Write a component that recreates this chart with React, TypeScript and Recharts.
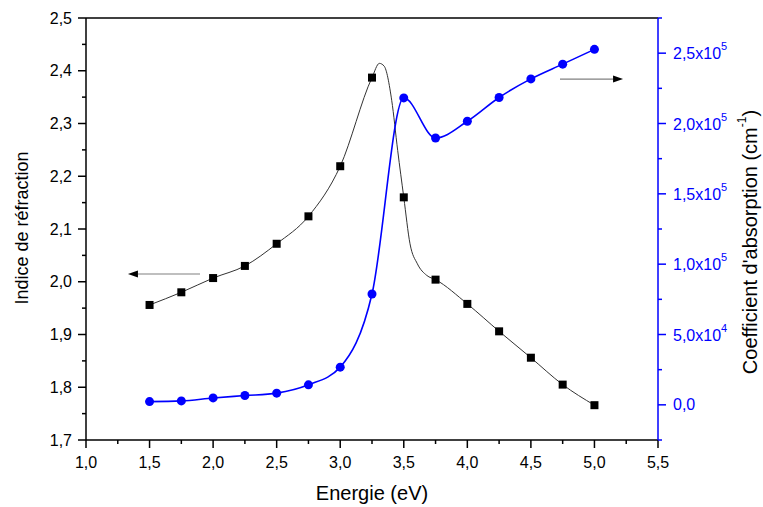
import React from 'react';
import { ComposedChart, Line, XAxis, YAxis, ReferenceLine } from 'recharts';

// measured points (energy in eV)
const energy = [1.5, 1.75, 2.0, 2.25, 2.5, 2.75, 3.0, 3.25, 3.5, 3.75, 4.0, 4.25, 4.5, 4.75, 5.0];
const refIndex = [1.956, 1.98, 2.007, 2.03, 2.072, 2.124, 2.219, 2.387, 2.16, 2.004, 1.958, 1.906, 1.856, 1.805, 1.766];
const absorption = [2300, 2800, 4900, 6600, 8300, 14200, 26800, 78800, 218200, 189700, 201600, 218500, 231700, 242200, 252700];

// the thin black curve is denser around the peak
const curveEnergy = [1.5, 1.75, 2.0, 2.25, 2.5, 2.75, 3.0, 3.25, 3.308, 3.345, 3.405, 3.452, 3.5, 3.549, 3.607, 3.681, 3.75, 4.0, 4.25, 4.5, 4.75, 5.0];
const curveIndex = [1.956, 1.98, 2.007, 2.03, 2.072, 2.124, 2.219, 2.387, 2.414, 2.409, 2.344, 2.249, 2.16, 2.072, 2.034, 2.012, 2.004, 1.958, 1.906, 1.856, 1.805, 1.766];

const xTicks = [1, 1.25, 1.5, 1.75, 2, 2.25, 2.5, 2.75, 3, 3.25, 3.5, 3.75, 4, 4.25, 4.5, 4.75, 5, 5.25, 5.5];
const leftTicks = [1.7, 1.75, 1.8, 1.85, 1.9, 1.95, 2.0, 2.05, 2.1, 2.15, 2.2, 2.25, 2.3, 2.35, 2.4, 2.45, 2.5];
const rightTicks = [-25000, 0, 25000, 50000, 75000, 100000, 125000, 150000, 175000, 200000, 225000, 250000, 275000];

const squareData = energy.map((x, i) => ({ x, n: refIndex[i] }));
const curveData = curveEnergy.map((x, i) => ({ x, n: curveIndex[i] }));
const blueData = energy.map((x, i) => ({ x, a: absorption[i] }));

const FONT = '"Liberation Sans", Arial, sans-serif';
const BLUE = '#0000ff';

const comma = (v: number) => v.toFixed(1).replace('.', ',');

function XTick(props: any) {
  const { x, y, payload } = props;
  const v = payload.value as number;
  const major = Math.abs(v * 2 - Math.round(v * 2)) < 1e-6;
  return (
    <g>
      <line x1={x} x2={x} y1={y} y2={y + (major ? 8 : 4)} stroke="#000" strokeWidth={1.5} />
      {major && (
        <text x={x} y={y + 22} textAnchor="middle" dominantBaseline="central" fontSize={16} fill="#000">
          {comma(v)}
        </text>
      )}
    </g>
  );
}

function LeftTick(props: any) {
  const { x, y, payload } = props;
  const v = payload.value as number;
  const major = Math.abs(v * 10 - Math.round(v * 10)) < 1e-6;
  return (
    <g>
      <line x1={x} x2={x - (major ? 8 : 4)} y1={y} y2={y} stroke="#000" strokeWidth={1.5} />
      {major && (
        <text x={x - 14} y={y} textAnchor="end" dominantBaseline="central" fontSize={16} fill="#000">
          {comma(v)}
        </text>
      )}
    </g>
  );
}

function RightTick(props: any) {
  const { x, y, payload } = props;
  const v = payload.value as number;
  const major = v % 50000 === 0;
  let label: React.ReactNode = null;
  if (major) {
    if (v === 0) {
      label = '0,0';
    } else {
      const exp = Math.floor(Math.log10(v));
      const mant = v / Math.pow(10, exp);
      label = (
        <>
          <tspan>{comma(mant)}x10</tspan>
          <tspan dy={-7} fontSize={11}>{exp}</tspan>
        </>
      );
    }
  }
  return (
    <g>
      <line x1={x} x2={x + (major ? 8 : 4)} y1={y} y2={y} stroke={BLUE} strokeWidth={1.5} />
      {major && (
        <text x={x + 15} y={y} textAnchor="start" dominantBaseline="central" fontSize={16} fill={BLUE}>
          {label}
        </text>
      )}
    </g>
  );
}

function Square(props: any) {
  const { cx, cy } = props;
  if (cx == null || cy == null) return null;
  return <rect x={cx - 4} y={cy - 4} width={8} height={8} fill="#000" />;
}

function Arrow(dir: 'left' | 'right') {
  return (props: any) => {
    const { x1, y1, x2, y2 } = props;
    const tip = dir === 'left' ? Math.min(x1, x2) : Math.max(x1, x2);
    const tail = dir === 'left' ? Math.max(x1, x2) : Math.min(x1, x2);
    const back = dir === 'left' ? tip + 10 : tip - 10;
    return (
      <g>
        <line x1={tail} x2={back} y1={y1} y2={y2} stroke="#808080" strokeWidth={1.2} />
        <polygon points={`${tip},${y1} ${back},${y1 - 3.5} ${back},${y1 + 3.5}`} fill="#000" />
      </g>
    );
  };
}

export default function App() {
  return (
    <div style={{ position: 'absolute', left: 0, top: 0, fontFamily: FONT }}>
      <ComposedChart width={763} height={507} margin={{ top: 18, right: 0, bottom: 0, left: 0 }}>
        <XAxis
          dataKey="x"
          type="number"
          domain={[1, 5.5]}
          ticks={xTicks}
          interval={0}
          tickSize={0}
          tickMargin={0}
          tickLine={false}
          tick={<XTick />}
          height={67}
          axisLine={{ stroke: '#000', strokeWidth: 1.5 }}
          allowDataOverflow
          label={{
            content: () => (
              <text x={372} y={493} textAnchor="middle" dominantBaseline="central" fontSize={20} fill="#000" fontFamily={FONT}>
                Energie (eV)
              </text>
            ),
          }}
        />
        <YAxis
          yAxisId="left"
          type="number"
          domain={[1.7, 2.5]}
          ticks={leftTicks}
          interval={0}
          tickSize={0}
          tickMargin={0}
          tickLine={false}
          tick={<LeftTick />}
          width={86}
          axisLine={{ stroke: '#000', strokeWidth: 1.5 }}
          allowDataOverflow
          label={{
            content: () => (
              <text x={22} y={228} transform="rotate(-90 22 228)" textAnchor="middle" dominantBaseline="central" fontSize={18} fill="#000" fontFamily={FONT}>
                Indice de réfraction
              </text>
            ),
          }}
        />
        <YAxis
          yAxisId="right"
          orientation="right"
          type="number"
          domain={[-25000, 275000]}
          ticks={rightTicks}
          interval={0}
          tickSize={0}
          tickMargin={0}
          tickLine={false}
          tick={<RightTick />}
          width={105}
          axisLine={{ stroke: BLUE, strokeWidth: 1.5 }}
          allowDataOverflow
          label={{
            content: () => (
              <text x={750} y={242} transform="rotate(-90 750 242)" textAnchor="middle" dominantBaseline="central" fontSize={20} fill="#000" fontFamily={FONT}>
                Coefficient d'absorption (cm
                <tspan dy={-8} fontSize={12}>-1</tspan>
                <tspan dy={8}>)</tspan>
              </text>
            ),
          }}
        />
        <ReferenceLine yAxisId="left" y={2.5} stroke="#000" strokeWidth={1.5} />
        <ReferenceLine
          yAxisId="left"
          segment={[{ x: 1.897, y: 2.0147 }, { x: 1.33, y: 2.0147 }]}
          shape={Arrow('left')}
        />
        <ReferenceLine
          yAxisId="right"
          segment={[{ x: 4.729, y: 231600 }, { x: 5.225, y: 231600 }]}
          shape={Arrow('right')}
        />
        <Line
          yAxisId="left"
          data={curveData}
          dataKey="n"
          type="monotone"
          stroke="#333"
          strokeWidth={1}
          dot={false}
          activeDot={false}
          isAnimationActive={false}
        />
        <Line
          yAxisId="left"
          data={squareData}
          dataKey="n"
          stroke="none"
          dot={<Square />}
          activeDot={false}
          isAnimationActive={false}
        />
        <Line
          yAxisId="right"
          data={blueData}
          dataKey="a"
          type="monotone"
          stroke={BLUE}
          strokeWidth={1.6}
          dot={{ r: 4.5, fill: BLUE, stroke: 'none' }}
          activeDot={false}
          isAnimationActive={false}
        />
      </ComposedChart>
    </div>
  );
}
